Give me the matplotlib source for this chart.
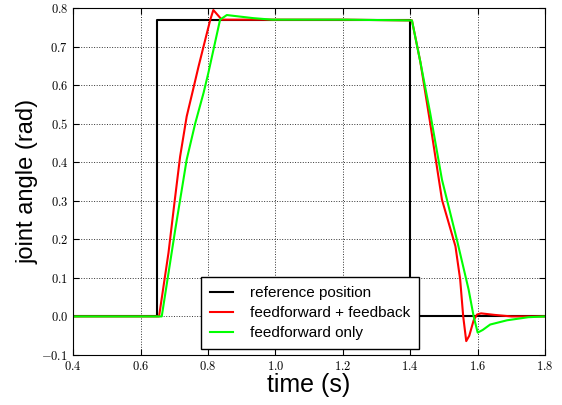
import numpy as np
import matplotlib
matplotlib.use("Agg")
from matplotlib import pyplot as plt
from matplotlib.ticker import FuncFormatter

# reference step
ref_t = [0.4, 0.65, 0.65, 1.4, 1.4, 1.8]
ref_v = [0.0, 0.0, 0.77, 0.77, 0.0, 0.0]

# feedforward + feedback
ffb_t = [0.4, 0.655, 0.683, 0.70, 0.7175, 0.737, 0.755, 0.772, 0.792, 0.807, 0.816, 0.828, 0.841,
         0.9, 1.0, 1.2, 1.405, 1.43, 1.459, 1.494, 1.534, 1.548, 1.557, 1.566, 1.575, 1.588,
         1.598, 1.61, 1.65, 1.7, 1.8]
ffb_v = [0.0, 0.0, 0.165, 0.29, 0.415, 0.519, 0.585, 0.648, 0.718, 0.77, 0.795, 0.783, 0.77,
         0.77, 0.77, 0.77, 0.768, 0.66, 0.502, 0.303, 0.182, 0.096, 0.0, -0.064, -0.05, -0.01,
         0.005, 0.008, 0.004, 0.0, 0.0]

# feedforward only
ff_t = [0.4, 0.663, 0.703, 0.737, 0.762, 0.787, 0.801, 0.836, 0.856, 0.875, 0.934, 0.99, 1.2,
        1.405, 1.43, 1.459, 1.494, 1.538, 1.573, 1.588, 1.600, 1.615, 1.637, 1.687, 1.75, 1.8]
ff_v = [0.0, 0.0, 0.225, 0.407, 0.50, 0.58, 0.631, 0.77, 0.782, 0.78, 0.774, 0.77, 0.77,
        0.768, 0.66, 0.528, 0.355, 0.2, 0.07, 0.0, -0.042, -0.035, -0.021, -0.01, -0.002, 0.0]

plt.rcParams['mathtext.fontset'] = 'cm'

fig = plt.figure(figsize=(5.62, 4.05), dpi=100)
ax = fig.add_axes([0.130, 0.1235, 0.840, 0.8565])

ax.plot(ref_t, ref_v, color='black', lw=1.5, label='reference position')
ax.plot(ffb_t, ffb_v, color='#ff0000', lw=1.5, label='feedforward + feedback')
ax.plot(ff_t, ff_v, color='#00ff00', lw=1.5, label='feedforward only')

ax.set_xlim(0.4, 1.8)
ax.set_ylim(-0.1, 0.8)
ax.set_xticks(np.arange(0.4, 1.81, 0.2))
ax.set_yticks(np.arange(-0.1, 0.81, 0.1))
fmt = FuncFormatter(lambda v, p: r'$%.1f$' % v if abs(v) > 1e-9 else r'$0.0$')
ax.xaxis.set_major_formatter(fmt)
ax.yaxis.set_major_formatter(fmt)
ax.tick_params(direction='in', top=True, right=True, labelsize=9, length=4)
ax.grid(True, color='0.2', linestyle=':', linewidth=0.7)

ax.set_xlabel('time (s)', fontsize=18, family='Liberation Sans', labelpad=0)
ax.set_ylabel('joint angle (rad)', fontsize=17, family='Liberation Sans', labelpad=2)

leg = ax.legend(loc='lower left', bbox_to_anchor=(0.2706, 0.0164), borderaxespad=0,
                fancybox=False, framealpha=1, edgecolor='black',
                prop={'family': 'Liberation Sans', 'size': 11},
                handlelength=1.5, handletextpad=1.1, borderpad=0.6, labelspacing=0.4)
leg.get_frame().set_linewidth(1.0)

fig.savefig('out.png', dpi=100)
